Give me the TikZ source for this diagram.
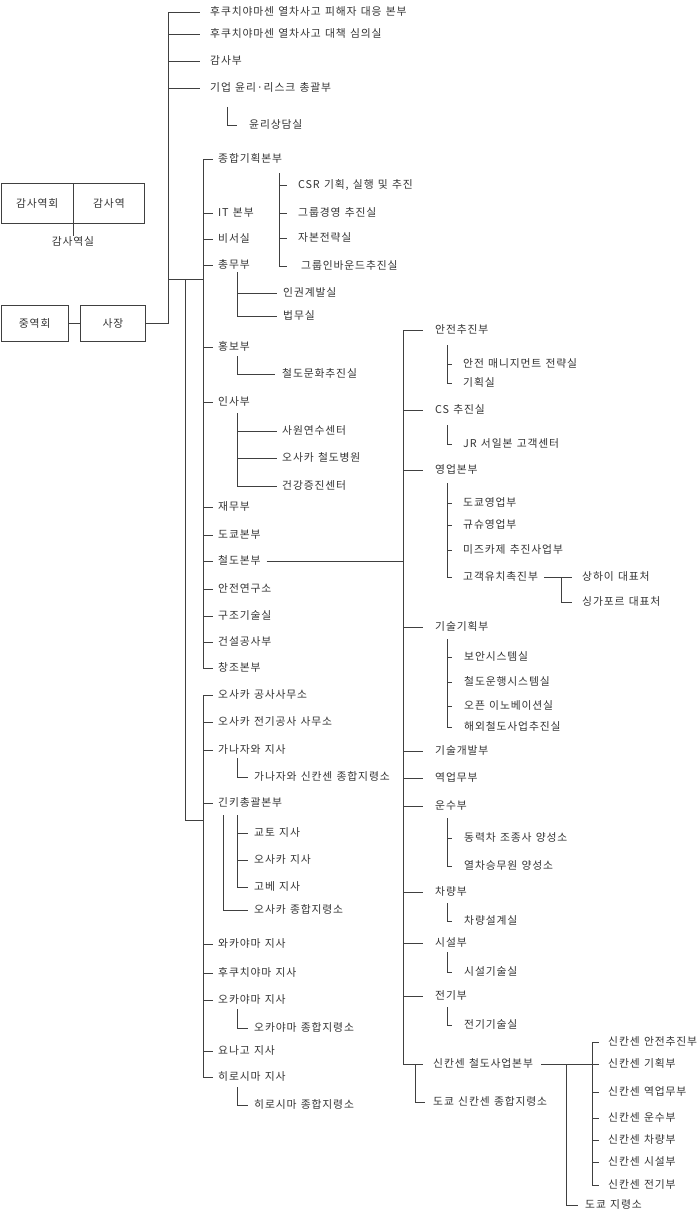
\documentclass[tikz,border=0pt]{standalone}
\usepackage{fontspec}
\newfontfamily\kr[LetterSpace=8,WordSpace=1.3]{Noto Sans CJK KR}
\definecolor{txt}{HTML}{333333}
\definecolor{lc}{HTML}{404040}
\newcommand\mytick[3]{\draw[ln] (#2.west -| #1) -- ([xshift=-#3pt]#2.west);}
\newcommand\mybr[3]{\draw[ln] (#1) |- ([xshift=-#3pt]#2.west);}
\tikzset{
  lbl/.style={anchor=west, inner sep=0pt, text height=0.84em, text depth=0.08em,
    font=\kr\fontsize{10.8}{12}\selectfont, text=txt},
  ln/.style={draw=lc, line width=0.9pt},
  box/.style={draw=lc, line width=0.9pt, anchor=north west, inner sep=0pt,
    font=\kr\fontsize{10.8}{12}\selectfont, text=txt, minimum height=40pt}
}
\begin{document}
\begin{tikzpicture}[x=1pt,y=-1pt]
\useasboundingbox (0,0) rectangle (697,1212);
% x levels
\coordinate (xT) at (168,0);
\coordinate (xA) at (185,0);
\coordinate (xB) at (203,0);
\coordinate (xR) at (403,0);

% ---------- boxes ----------
\node[box, minimum width=72.5pt] (ga) at (0.5,183) {감사역회};
\node[box, minimum width=71pt] (gb) at (73,183) {감사역};
\draw[ln] (ga.south east) -- ++(0,12) coordinate (gd);
\node[lbl, anchor=center] (gs) at (73,242) {감사역실};
\node[box, minimum width=67.5pt, minimum height=36pt] (jy) at (0.5,305) {중역회};
\node[box, minimum width=65pt, minimum height=36pt] (sj) at (80,305) {사장};
\draw[ln] (jy.east) -- (sj.east -| sj.west);
\coordinate (T0) at (168,12);
\draw[ln] (sj.east) -| (T0);

% ---------- top group ----------
\node[lbl] (t1) at (210,12) {후쿠치야마센 열차사고 피해자 대응 본부};
\node[lbl] (t2) at (210,34) {후쿠치야마센 열차사고 대책 심의실};
\node[lbl] (t3) at (210,61) {감사부};
\node[lbl] (t4) at (210,88) {기업 윤리·리스크 총괄부};
\node[lbl] (t4a) at (249,125) {윤리상담실};
\foreach \n in {t1,t2,t3,t4}{\mytick{xT}{\n}{10}}
\coordinate (c_t4) at (227,107);
\mybr{c_t4}{t4a}{12}

% junction to second level
\coordinate (J) at (168,279);
\coordinate (J2) at (185,279);
\draw[ln] (J) -- (J -| xB);
\coordinate (J3) at (185,820);
\draw[ln] (J2) -- (J3) -- (J3 -| xB);

% ---------- group 1 ----------
\node[lbl] (g1) at (218,159) {종합기획본부};
\node[lbl] (g2) at (218,213) {IT 본부};
\node[lbl] (g3) at (218,239) {비서실};
\node[lbl] (g4) at (218,265) {총무부};
\node[lbl] (g5) at (218,347) {홍보부};
\node[lbl] (g6) at (218,402) {인사부};
\node[lbl] (g7) at (218,507) {재무부};
\node[lbl] (g8) at (218,535) {도쿄본부};
\node[lbl] (g9) at (218,561) {철도본부};
\node[lbl] (g10) at (218,589) {안전연구소};
\node[lbl] (g11) at (218,616) {구조기술실};
\node[lbl] (g12) at (218,642) {건설공사부};
\node[lbl] (g13) at (218,668) {창조본부};
\draw[ln] (g1.west -| xB) -- (g13.west -| xB);
\foreach \n in {g1,g2,g3,g4,g5,g6,g7,g8,g9,g10,g11,g12,g13}{\mytick{xB}{\n}{5}}

% sub of g1
\node[lbl] (s1) at (298,185) {CSR 기획, 실행 및 추진};
\node[lbl] (s2) at (298,213) {그룹경영 추진실};
\node[lbl] (s3) at (298,238) {자본전략실};
\node[lbl] (s4) at (301,266) {그룹인바운드추진실};
\coordinate (c_g1) at (279,173);
\mybr{c_g1}{s4}{14}
\foreach \n in {s1,s2,s3}{\mytick{c_g1}{\n}{11}}
% sub of g4
\node[lbl] (s5) at (283,293) {인권계발실};
\node[lbl] (s6) at (283,316) {법무실};
\coordinate (c_g4) at (237,272);
\mybr{c_g4}{s6}{6}
\mytick{c_g4}{s5}{6}
% sub of g5
\node[lbl] (s7) at (282,374) {철도문화추진실};
\coordinate (c_g5) at (237,356);
\mybr{c_g5}{s7}{7}
% sub of g6
\node[lbl] (s8) at (282,431) {사원연수센터};
\node[lbl] (s9) at (282,458) {오사카 철도병원};
\node[lbl] (s10) at (282,486) {건강증진센터};
\coordinate (c_g6) at (237,413);
\mybr{c_g6}{s10}{5}
\mytick{c_g6}{s8}{5}
\mytick{c_g6}{s9}{5}

% ---------- right trunk ----------
\node[lbl] (r1) at (435,330) {안전추진부};
\node[lbl] (r2) at (435,410) {CS 추진실};
\node[lbl] (r3) at (435,470) {영업본부};
\node[lbl] (r4) at (435,627) {기술기획부};
\node[lbl] (r5) at (435,751) {기술개발부};
\node[lbl] (r6) at (435,778) {역업무부};
\node[lbl] (r7) at (435,806) {운수부};
\node[lbl] (r8) at (435,892) {차량부};
\node[lbl] (r9) at (435,943) {시설부};
\node[lbl] (r10) at (435,996) {전기부};
\node[lbl] (r11) at (433,1064) {신칸센 철도사업본부};
\draw[ln] (r1.west -| xR) -- (r11.west -| xR);
\foreach \n in {r1,r2,r3,r4,r5,r6,r7,r8,r9,r10}{\mytick{xR}{\n}{12}}
\mytick{xR}{r11}{10}
\draw[ln] ([xshift=6pt]g9.east) -- (g9.east -| xR);

% subs of right trunk
\node[lbl] (a1) at (463,364) {안전 매니지먼트 전략실};
\node[lbl] (a2) at (463,383) {기획실};
\coordinate (c_r1) at (447,345);
\mybr{c_r1}{a2}{11}
\mytick{c_r1}{a1}{11}
\node[lbl] (a3) at (463,444) {JR 서일본 고객센터};
\coordinate (c_r2) at (447,425);
\mybr{c_r2}{a3}{11}
\node[lbl] (a4) at (463,503) {도쿄영업부};
\node[lbl] (a5) at (463,525) {규슈영업부};
\node[lbl] (a6) at (463,550) {미즈카제 추진사업부};
\node[lbl] (a7) at (463,577) {고객유치촉진부};
\coordinate (c_r3) at (447,483);
\mybr{c_r3}{a7}{11}
\foreach \n in {a4,a5,a6}{\mytick{c_r3}{\n}{11}}
\node[lbl] (a8) at (582,577) {상하이 대표처};
\node[lbl] (a9) at (582,602) {싱가포르 대표처};
\coordinate (c_a7) at (561,577);
\draw[ln] ([xshift=6pt]a7.east) -- ([xshift=-10pt]a8.west);
\mybr{c_a7}{a9}{10}
\node[lbl] (a10) at (464,657) {보안시스템실};
\node[lbl] (a11) at (464,682) {철도운행시스템실};
\node[lbl] (a12) at (464,706) {오픈 이노베이션실};
\node[lbl] (a13) at (464,727) {해외철도사업추진실};
\coordinate (c_r4) at (447,639);
\mybr{c_r4}{a13}{12}
\foreach \n in {a10,a11,a12}{\mytick{c_r4}{\n}{12}}
\node[lbl] (a14) at (464,838) {동력차 조종사 양성소};
\node[lbl] (a15) at (464,866) {열차승무원 양성소};
\coordinate (c_r7) at (447,818);
\mybr{c_r7}{a15}{12}
\mytick{c_r7}{a14}{12}
\node[lbl] (a16) at (464,921) {차량설계실};
\coordinate (c_r8) at (447,903);
\mybr{c_r8}{a16}{12}
\node[lbl] (a17) at (464,972) {시설기술실};
\coordinate (c_r9) at (447,952);
\mybr{c_r9}{a17}{12}
\node[lbl] (a18) at (464,1025) {전기기술실};
\coordinate (c_r10) at (447,1007);
\mybr{c_r10}{a18}{12}

% shinkansen
\node[lbl] (k1) at (608,1042) {신칸센 안전추진부};
\node[lbl] (k2) at (608,1064) {신칸센 기획부};
\node[lbl] (k3) at (608,1092) {신칸센 역업무부};
\node[lbl] (k4) at (608,1118) {신칸센 운수부};
\node[lbl] (k5) at (608,1140) {신칸센 차량부};
\node[lbl] (k6) at (608,1162) {신칸센 시설부};
\node[lbl] (k7) at (608,1185) {신칸센 전기부};
\coordinate (xK) at (592,0);
\draw[ln] ([xshift=8pt]r11.east) -- ([xshift=-9pt]k2.west);
\draw[ln] (k1.west -| xK) -- (k7.west -| xK);
\foreach \n in {k1,k3,k4,k5,k6,k7}{\mytick{xK}{\n}{9}}
\node[lbl] (k8) at (585,1205) {도쿄 지령소};
\coordinate (c_k) at (566,1064);
\mybr{c_k}{k8}{7}
\node[lbl] (r12) at (433,1102) {도쿄 신칸센 종합지령소};
\coordinate (c_r11) at (415,1064);
\mybr{c_r11}{r12}{8}

% ---------- group 2 ----------
\node[lbl] (h1) at (218,695) {오사카 공사사무소};
\node[lbl] (h2) at (218,722) {오사카 전기공사 사무소};
\node[lbl] (h3) at (218,750) {가나자와 지사};
\node[lbl] (h4) at (218,803) {긴키총괄본부};
\node[lbl] (h5) at (218,944) {와카야마 지사};
\node[lbl] (h6) at (218,973) {후쿠치야마 지사};
\node[lbl] (h7) at (218,1000) {오카야마 지사};
\node[lbl] (h8) at (218,1051) {요나고 지사};
\node[lbl] (h9) at (218,1077) {히로시마 지사};
\draw[ln] (h1.west -| xB) -- (h9.west -| xB);
\foreach \n in {h1,h2,h3,h4,h5,h6,h7,h8,h9}{\mytick{xB}{\n}{5}}
\node[lbl] (p1) at (254,777) {가나자와 신칸센 종합지령소};
\coordinate (c_h3) at (237,758);
\mybr{c_h3}{p1}{6}
\node[lbl] (p2) at (254,833) {교토 지사};
\node[lbl] (p3) at (254,860) {오사카 지사};
\node[lbl] (p4) at (254,887) {고베 지사};
\node[lbl] (p5) at (254,910) {오사카 종합지령소};
\coordinate (c_h4) at (237,815);
\coordinate (c_h4b) at (223,815);
\mybr{c_h4}{p4}{6}
\mytick{c_h4}{p2}{6}
\mytick{c_h4}{p3}{6}
\mybr{c_h4b}{p5}{6}
\node[lbl] (p6) at (254,1028) {오카야마 종합지령소};
\coordinate (c_h7) at (237,1009);
\mybr{c_h7}{p6}{6}
\node[lbl] (p7) at (254,1105) {히로시마 종합지령소};
\coordinate (c_h9) at (237,1087);
\mybr{c_h9}{p7}{6}
\end{tikzpicture}
\end{document}
